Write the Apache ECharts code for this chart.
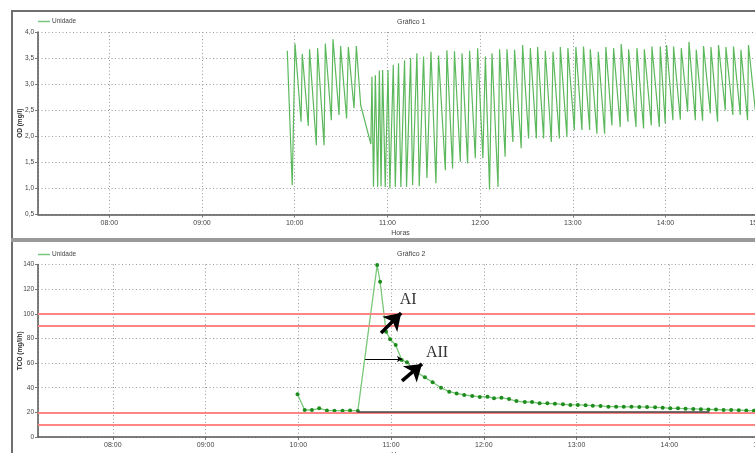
<!DOCTYPE html>
<html><head><meta charset="utf-8">
<script src="https://cdn.jsdelivr.net/npm/echarts@6/dist/echarts.min.js"></script>
<style>html,body{margin:0;padding:0;background:#fff}#c{width:755px;height:453px}</style>
</head><body><div id="c"></div>
<script>
// ---- Gráfico 1 : OD (mg/l) — time in minutes since midnight
const odTime = [
 595.2,598.4,600.2,604.1,604.9,608.8,609.6,614.0,614.8,619.0,
 619.8,623.7,624.8,628.7,629.7,633.6,634.7,638.4,639.9,642.7,
 649.3,650.0,651.0,652.2,653.7,654.8,655.9,656.9,658.6,660.4,
 661.6,663.8,665.1,667.2,668.7,671.1,672.4,675.0,676.3,679.1,
 680.6,683.4,685.6,688.2,691.4,693.1,697.5,698.5,702.2,703.4,
 707.2,708.3,711.9,713.2,716.9,718.4,721.8,723.4,726.1,727.7,
 731.6,732.6,736.2,737.4,741.2,742.3,746.6,747.5,751.4,752.5,
 756.4,757.2,761.1,762.2,766.1,767.2,771.3,771.9,776.2,776.8,
 781.0,782.0,785.9,786.9,790.9,791.3,795.6,796.5,800.6,801.4,
 805.3,806.4,810.7,811.3,815.7,816.1,820.9,821.5,825.8,826.3,
 830.8,831.2,836.0,836.6,839.8,840.7,844.8,845.2,849.6,850.2,
 854.3,855.2,859.3,859.9,864.0,864.6,869.0,869.4,873.7,874.3,
 878.7,879.1,883.6,884.0,888.4,888.8,893.1,893.7,898.1,899.4
];
const odValue = [
 3.64,1.06,3.78,2.28,3.58,2.20,3.67,1.83,3.69,1.83,
 3.78,2.31,3.86,2.41,3.73,2.34,3.71,2.54,3.73,2.60,
 1.85,3.14,1.03,3.17,1.03,3.26,1.04,3.27,1.03,3.27,
 1.00,3.37,1.03,3.40,1.03,3.46,1.03,3.50,1.06,3.59,
 1.04,3.53,1.20,3.62,1.10,3.55,1.35,3.65,1.38,3.63,
 1.51,3.59,1.48,3.64,1.58,3.69,1.58,3.53,0.98,3.59,
 1.03,3.67,1.61,3.67,1.89,3.66,1.77,3.75,1.96,3.69,
 1.96,3.71,1.96,3.64,1.89,3.62,1.96,3.71,1.99,3.69,
 2.12,3.71,2.12,3.72,2.12,3.67,2.05,3.62,2.05,3.71,
 2.21,3.69,2.18,3.77,2.28,3.67,2.18,3.69,2.15,3.67,
 2.21,3.72,2.18,3.72,2.25,3.75,2.31,3.72,2.32,3.69,
 2.47,3.81,2.31,3.66,2.30,3.73,2.44,3.71,2.28,3.75,
 2.50,3.71,2.41,3.72,2.41,3.66,2.31,3.75,2.50,3.70
];
// ---- Gráfico 2 : TCO (mg/l/h)
const tcoTime = [
 599.5,604.1,608.8,613.5,618.5,623.4,628.6,633.5,638.5,651.0,
 652.9,656.8,659.4,663.0,666.9,670.3,676.1,681.9,686.9,692.3,
 697.6,702.4,707.3,712.5,717.4,722.4,726.6,731.4,736.3,741.1,
 746.5,751.2,756.1,761.1,766.0,771.2,776.0,780.8,785.8,790.5,
 795.5,800.6,805.6,810.5,815.5,820.6,825.6,830.8,835.7,840.6,
 845.6,850.5,855.5,860.4,865.3,870.2,875.1,880.0,884.9,889.8,
 894.7
];
const tcoValue = [
 34.7,21.9,21.9,23.3,21.6,21.4,21.4,21.6,21.2,139.6,
 126.0,85.5,79.3,74.7,62.5,60.6,53.0,48.4,44.4,40.0,
 36.8,35.4,34.1,33.3,32.5,32.7,31.4,31.9,30.8,29.2,
 28.4,28.4,27.3,27.3,27.0,26.5,26.0,26.0,25.8,25.4,
 25.2,24.6,24.6,24.5,24.5,24.4,24.3,24.1,23.8,23.3,
 23.3,23.0,22.8,22.6,22.3,22.3,22.0,22.0,21.8,21.5,
 21.4
];
const redLevels = [100, 90, 20, 10];
const baseline = [[638, 20.8], [866, 20.8]];
const arrowAI = [[653.5, 84.4], [666.5, 100.6]];
const arrowAII = [[667.1, 45.5], [680.0, 59.3]];
const arrowH = [[643.2, 63.3], [667.1, 63.3]];
const labelAI = [671, 111.2];
const labelAII = [689.7, 68.2];

const BASE = new Date(2020, 0, 1, 0, 0, 0).getTime();
const T = m => BASE + m * 60000;
const pad = n => String(n).padStart(2, '0');
const fmtTime = v => { const d = new Date(v); return pad(d.getHours()) + ':' + pad(d.getMinutes()); };
const fmtComma = v => v.toFixed(1).replace('.', ',');

const od = odTime.map((t, i) => [T(t), odValue[i]]);
const tco = tcoTime.map((t, i) => [T(t), tcoValue[i]]);

const FONT = 'Liberation Sans';
const small = { fontSize: 7, color: '#444', fontFamily: FONT };
const dotted = { type: [1, 2.5], color: '#9a9a9a', width: 1 };

function xAxisCfg(gi, minM, maxM) {
  return {
    type: 'time', gridIndex: gi, min: T(minM), max: T(maxM),
    minInterval: 3600000, maxInterval: 3600000,
    axisLine: { show: true, lineStyle: { color: '#555', width: 1.5 } },
    axisTick: { show: true, length: 3, lineStyle: { color: '#777' } },
    axisLabel: Object.assign({ formatter: fmtTime, margin: 5, showMinLabel: false, showMaxLabel: false, hideOverlap: false }, small),
    splitLine: { show: true, lineStyle: dotted },
    name: 'Horas', nameLocation: 'middle', nameGap: 15, nameMoveOverlap: false,
    nameTextStyle: small
  };
}
function yAxisCfg(gi, min, max, interval, name, fmt) {
  return {
    type: 'value', gridIndex: gi, min: min, max: max, interval: interval,
    axisLine: { show: true, lineStyle: { color: '#555', width: 1.5 } },
    axisTick: { show: true, length: 3, lineStyle: { color: '#777' } },
    axisLabel: Object.assign({ formatter: fmt, margin: 4 }, small, { fontSize: 6.5 }),
    splitLine: { show: true, lineStyle: dotted },
    name: name, nameLocation: 'middle', nameGap: 14, nameRotate: 90, nameMoveOverlap: false,
    nameTextStyle: { fontSize: 6.5, fontWeight: 'bold', color: '#333', fontFamily: FONT }
  };
}

const chart = echarts.init(document.getElementById('c'), null, { renderer: 'canvas' });
chart.setOption({
  animation: false,
  backgroundColor: '#fff',
  textStyle: { fontFamily: FONT },
  title: [
    { text: 'Gráfico 1', left: 397, top: 19, padding: 0, textStyle: { fontSize: 7, fontWeight: 'normal', color: '#444', fontFamily: FONT } },
    { text: 'Gráfico 2', left: 397, top: 251, padding: 0, textStyle: { fontSize: 7, fontWeight: 'normal', color: '#444', fontFamily: FONT } }
  ],
  legend: [
    { data: ['Unidade'], left: 38, top: 18, padding: 0, icon: 'rect', itemWidth: 12, itemHeight: 1.5, itemGap: 0,
      itemStyle: { color: '#7cc47c' }, textStyle: { fontSize: 6.5, color: '#444', fontFamily: FONT, padding: [0, 0, 0, -3] } },
    { data: ['Unidade'], left: 38, top: 251, padding: 0, icon: 'rect', itemWidth: 12, itemHeight: 1.5, itemGap: 0,
      itemStyle: { color: '#7cc47c' }, textStyle: { fontSize: 6.5, color: '#444', fontFamily: FONT, padding: [0, 0, 0, -3] } }
  ],
  grid: [
    { left: 38, right: -8, top: 32, height: 182.5, outerBoundsMode: 'none' },
    { left: 38, right: -8, top: 264.5, height: 172.5, outerBoundsMode: 'none' }
  ],
  xAxis: [xAxisCfg(0, 433.85, 903.1), xAxisCfg(1, 431.6, 900.6)],
  yAxis: [
    yAxisCfg(0, 0.5, 4, 0.5, 'OD (mg/l)', fmtComma),
    yAxisCfg(1, 0, 140, 20, 'TCO (mg/l/h)', v => String(v))
  ],
  graphic: [
    { type: 'rect', shape: { x: 11, y: 10, width: 744, height: 2 }, style: { fill: '#6f6f6f' }, silent: true },
    { type: 'rect', shape: { x: 11, y: 10, width: 2, height: 443 }, style: { fill: '#6f6f6f' }, silent: true },
    { type: 'rect', shape: { x: 11, y: 238, width: 744, height: 4 }, style: { fill: '#9a9a9a' }, silent: true }
  ],
  series: [
    { name: 'Unidade', type: 'line', xAxisIndex: 0, yAxisIndex: 0, data: od, symbol: 'none',
      lineStyle: { color: '#5cb85c', width: 1.2 }, itemStyle: { color: '#5cb85c' }, z: 3 },
    { name: 'ref', type: 'line', xAxisIndex: 1, yAxisIndex: 1, data: [], z: 1,
      markLine: { silent: true, symbol: ['none', 'none'], label: { show: false },
        lineStyle: { color: '#ff8484', width: 2, type: 'solid' },
        data: redLevels.map(v => ({ yAxis: v })) } },
    { name: 'Unidade', type: 'line', xAxisIndex: 1, yAxisIndex: 1, data: tco, symbol: 'circle', symbolSize: 4,
      lineStyle: { color: '#78c878', width: 1.3 }, itemStyle: { color: '#1d8c1d' }, z: 3 },
    { name: 'annot', type: 'line', xAxisIndex: 1, yAxisIndex: 1, data: [], z: 4,
      markLine: { silent: true, label: { show: false }, symbol: ['none', 'arrow'],
        data: [
          [{ coord: [T(baseline[0][0]), baseline[0][1]], symbol: 'none', lineStyle: { color: '#444', width: 1.5, type: 'solid' } },
           { coord: [T(baseline[1][0]), baseline[1][1]], symbol: 'none', lineStyle: { color: '#444', width: 1.5, type: 'solid' } }],
          [{ coord: [T(arrowAI[0][0]), arrowAI[0][1]], symbol: 'none', lineStyle: { color: '#000', width: 3.5, type: 'solid' } },
           { coord: [T(arrowAI[1][0]), arrowAI[1][1]], symbol: 'arrow', symbolSize: 16, lineStyle: { color: '#000', width: 3.5, type: 'solid' } }],
          [{ coord: [T(arrowAII[0][0]), arrowAII[0][1]], symbol: 'none', lineStyle: { color: '#000', width: 3.5, type: 'solid' } },
           { coord: [T(arrowAII[1][0]), arrowAII[1][1]], symbol: 'arrow', symbolSize: 16, lineStyle: { color: '#000', width: 3.5, type: 'solid' } }],
          [{ coord: [T(arrowH[0][0]), arrowH[0][1]], symbol: 'none', lineStyle: { color: '#000', width: 1, type: 'solid' } },
           { coord: [T(arrowH[1][0]), arrowH[1][1]], symbol: 'arrow', symbolSize: 5, lineStyle: { color: '#000', width: 1, type: 'solid' } }]
        ] },
      markPoint: { silent: true, symbol: 'circle', symbolSize: 1, itemStyle: { color: 'rgba(0,0,0,0)' },
        label: { show: true, position: 'inside', formatter: p => p.name, fontFamily: 'Liberation Serif', fontSize: 16, color: '#333' },
        data: [
          { name: 'AI', coord: [T(labelAI[0]), labelAI[1]] },
          { name: 'AII', coord: [T(labelAII[0]), labelAII[1]] }
        ] } }
  ]
});
</script></body></html>
